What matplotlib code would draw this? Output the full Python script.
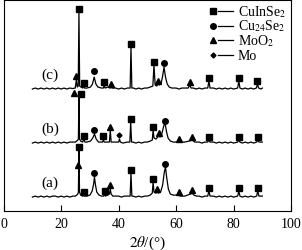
import numpy as np
import matplotlib
matplotlib.use("Agg")
import matplotlib.pyplot as plt

plt.rcParams['font.family'] = ['Liberation Serif', 'DejaVu Serif']
plt.rcParams['mathtext.fontset'] = 'stix'

#############################################################################
# Data (2theta in degrees, intensity above baseline)
#############################################################################

a_theta = [10, 11, 12, 13, 14, 15, 16, 17, 18, 19, 20, 21, 22, 23, 24, 25, 25.8, 26.0, 26.2, 26.4, 26.8,
           27.5, 27.8, 28.1, 29, 30, 30.8, 31.3, 31.6, 31.9, 32.4, 33.2, 34, 34.8, 35.1, 35.4, 36.2, 36.8,
           37.1, 37.4, 38, 39, 40, 41, 42, 43, 44.0, 44.3, 44.6, 45, 46, 47, 48, 49, 50, 51, 51.7, 52.0,
           52.3, 53.0, 53.4, 53.8, 54.6, 55.3, 55.9, 56.3, 56.7, 57.3, 58, 59, 60.5, 60.9, 61.3, 62, 63,
           64, 65, 65.6, 66.2, 67, 68, 69, 70, 71.0, 71.4, 71.8, 73, 74, 75, 76, 77, 78, 79, 80, 81.4,
           81.8, 82.2, 83, 84, 85, 86, 87, 88.0, 88.4, 88.8, 90]
a_counts = [0, 1, 0, 1, 0, 1, 0, 1, 1, 0, 1, 0, 1, 0, 1, 1, 3, 5, 47, 5, 2,
            1, 2, 1, 1, 2, 6, 13, 20, 13, 5, 2, 1, 1, 3, 1, 2, 3,
            8, 3, 1, 1, 1, 0, 1, 1, 1, 24, 1, 1, 0, 1, 0, 1, 1, 2, 4, 15,
            5, 4, 6, 4, 5, 12, 25, 30, 20, 8, 3, 2, 2, 3, 1, 1, 1,
            2, 3, 4, 2, 1, 1, 0, 1, 1, 6, 1, 1, 0, 1, 0, 1, 0, 1, 0, 1,
            6, 1, 0, 1, 0, 1, 0, 1, 6, 1, 1]

b_theta = [10, 11, 12, 13, 14, 15, 16, 17, 18, 19, 20, 21, 22, 23, 24, 25, 25.8, 26.0, 26.2, 26.4, 26.8,
           27.5, 27.9, 28.3, 29, 30.2, 31.0, 31.6, 32.2, 33, 34, 34.4, 34.7, 35, 36, 36.8, 37.1, 37.4,
           38, 39.5, 40.0, 40.3, 40.6, 41.5, 43, 43.9, 44.2, 44.5, 45, 46, 47, 48, 49, 50, 51, 51.7, 52.0,
           52.3, 53.0, 53.6, 54.0, 54.4, 55.0, 55.6, 56.1, 56.6, 57.2, 58, 59, 60.5, 60.9, 61.3, 62, 63,
           64.5, 65.6, 66.5, 68, 69, 70, 71.0, 71.4, 71.8, 73, 74, 75, 76, 77, 78, 79, 80, 81.4, 81.8,
           82.2, 83, 84, 85, 86, 87, 88.0, 88.4, 88.8, 90]
b_counts = [0, 1, 0, 1, 0, 1, 0, 1, 0, 1, 0, 1, 0, 1, 1, 1, 3, 4, 48, 4, 2,
            1, 4, 1, 1, 2, 5, 9, 4, 1, 1, 1, 3, 1, 1, 1, 13, 1,
            1, 1, 1, 4, 1, 0, 1, 1, 21, 1, 1, 0, 1, 0, 1, 1, 2, 3, 13,
            5, 4, 6, 8, 6, 9, 16, 21, 12, 5, 2, 1, 1, 2, 1, 1, 1,
            2, 3, 1, 1, 0, 1, 1, 3, 1, 1, 0, 1, 0, 1, 0, 1, 0, 1, 3,
            1, 0, 1, 0, 1, 0, 1, 3, 1, 1]

c_theta = [10, 11, 12, 13, 14, 15, 16, 17, 18, 19, 20, 21, 22, 23, 24, 24.9, 25.3, 25.6, 25.95, 26.2, 26.45,
           26.9, 27.5, 27.8, 28.1, 29, 30.2, 30.9, 31.5, 32.1, 32.8, 34, 34.7, 35.0, 35.3, 36.2, 37.1,
           37.4, 37.7, 39, 40, 41, 42, 43, 44.0, 44.3, 44.6, 45.2, 46, 47, 48, 49, 50, 51, 51.9, 52.3,
           52.7, 53.3, 53.7, 54.1, 54.8, 55.3, 55.8, 56.3, 56.9, 57.6, 58.5, 60, 61, 62, 63, 64.2, 64.7,
           65.2, 66, 67, 68, 69, 70, 71.0, 71.4, 71.8, 73, 74, 75, 76, 77, 78, 79, 80, 81.4, 81.8, 82.2,
           83, 84, 85, 86, 87, 87.9, 88.3, 88.7, 89.5, 90]
c_counts = [0, 1, 0, 1, 0, 1, 0, 1, 0, 1, 0, 1, 0, 1, 0.5, 1, 9, 2, 3, 77, 3,
            2, 1, 4, 1, 1, 2, 5, 12, 5, 2, 1, 1, 4, 1, 2, 1,
            3, 1, 1, 0, 1, 0, 1, 1, 42, 1, 1, 0, 1, 0, 1, 1, 2, 3, 24,
            4, 3, 6, 4, 6, 13, 22, 12, 5, 2, 1, 1, 0, 1, 1, 1, 4,
            1, 1, 0, 1, 0, 1, 1, 8, 1, 1, 0, 1, 0, 1, 0, 1, 0, 1, 8, 1,
            0, 1, 0, 1, 0, 1, 5, 1, 0, 1]

# phase markers: (2theta, height above baseline) per pattern
a_cuinse2 = [(26.2, 50), (27.8, 5), (35.1, 6), (44.3, 27), (52.0, 18), (71.4, 9), (81.8, 9), (88.4, 9)]
a_cuse = [(31.6, 24), (56.3, 33)]
a_moo2 = [(25.7, 32), (37.1, 12), (53.4, 8), (60.9, 5), (65.6, 7)]
a_mo = []

b_cuinse2 = [(27.0, 49), (27.9, 7), (34.7, 7), (44.2, 24), (52.0, 16), (71.4, 6), (81.8, 6), (88.4, 6)]
b_cuse = [(31.6, 13), (56.3, 22)]
b_moo2 = [(24.5, 50), (37.1, 16), (54.0, 10), (60.9, 4), (65.6, 6)]
b_mo = [(40.3, 8)]

c_cuinse2 = [(26.2, 80), (27.9, 6), (35.0, 7), (44.3, 45), (52.3, 27), (71.4, 11), (81.8, 11), (88.3, 8)]
c_cuse = [(31.5, 18), (55.8, 26)]
c_moo2 = [(25.2, 13), (37.4, 5), (53.7, 8), (64.7, 7)]
c_mo = []

phase_labels = ['CuInSe$_2$', 'Cu$_{24}$Se$_2$', 'MoO$_2$', 'Mo']
pattern_labels = ['(a)', '(b)', '(c)']
x_ticks = [0, 20, 40, 60, 80, 100]

################################################################################
# Plot
################################################################################

fig = plt.figure(figsize=(3.02, 2.51), dpi=100)
ax = fig.add_axes([0.012, 0.155, 0.952, 0.841])

markers = ['s', 'o', '^', 'D']
msizes = [4, 4, 4, 2.5]
offsets = [14, 68, 122]

patterns = [(a_theta, a_counts, [a_cuinse2, a_cuse, a_moo2, a_mo]),
            (b_theta, b_counts, [b_cuinse2, b_cuse, b_moo2, b_mo]),
            (c_theta, c_counts, [c_cuinse2, c_cuse, c_moo2, c_mo])]

for k, (th, cnt, phases) in enumerate(patterns):
    off = offsets[k]
    ax.plot(th, np.array(cnt) + off, color='black', lw=0.9)
    for m, ms, pts in zip(markers, msizes, phases):
        if len(pts) == 0:
            continue
        px = [p[0] for p in pts]
        py = [p[1] + off for p in pts]
        ax.plot(px, py, ls='none', marker=m, ms=ms, color='black')
    ax.text(16.1, off + 15, pattern_labels[k], fontsize=11, ha='center', va='center')

# legend drawn by hand: marker, dash, label
leg_y = [0.948, 0.879, 0.810, 0.739]
for m, ms, lab, y in zip(markers, msizes, phase_labels, leg_y):
    ax.plot([0.727], [y], marker=m, ms=ms, color='black', transform=ax.transAxes, clip_on=False)
    ax.plot([0.745, 0.797], [y, y], color='black', lw=0.9, transform=ax.transAxes)
    ax.text(0.815, y, lab, fontsize=10, va='center', ha='left', transform=ax.transAxes)

ax.set_xlim(0, 100)
ax.set_ylim(0, 211)
ax.set_xticks(x_ticks)
ax.set_xticklabels([str(t) for t in x_ticks], fontsize=10)
ax.set_yticks([])
ax.tick_params(axis='x', direction='in', length=4, width=0.8, pad=4)
for s in ax.spines.values():
    s.set_linewidth(0.8)
ax.set_xlabel(r'$2\theta$/(°)', fontsize=11, labelpad=3)

plt.savefig('out.png', dpi=100)
plt.close()
